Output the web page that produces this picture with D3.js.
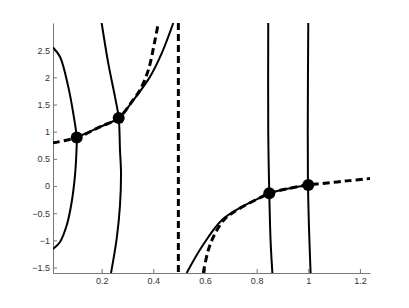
<!DOCTYPE html>
<html>
<head>
<meta charset="utf-8">
<script src="https://cdn.jsdelivr.net/npm/d3@7"></script>
<style>
  body { margin: 0; background: #fff; }
  .axis text { font-family: "Liberation Sans", Arial, sans-serif; font-size: 9px; fill: #333; }
  .axis path, .axis line { stroke: #777; }
</style>
</head>
<body>
<script>
// axis limits and ticks
const xDomain = [0.0116, 1.239];
const yDomain = [-1.6, 3.0];
const xTicks = [0.2, 0.4, 0.6, 0.8, 1, 1.2];
const yTicks = [-1.5, -1, -0.5, 0, 0.5, 1, 1.5, 2, 2.5];

// solid curves
const curveA = [[0.0116, 2.55], [0.0387, 2.378], [0.0708, 1.825], [0.0902, 1.335], [0.1034, 0.893],
    [0.1026, 0.66], [0.0968, 0.2], [0.084, -0.293], [0.0647, -0.722], [0.0387, -1.029], [0.0116, -1.16]];
const curveB = [[0.2, 3.0], [0.2257, 2.256], [0.2516, 1.641], [0.266, 1.254], [0.271, 0.659],
    [0.2749, 0.26], [0.271, -0.354], [0.2582, -0.967], [0.2362, -1.6]];
const upperSolid = [[0.1034, 0.893], [0.1936, 1.088], [0.266, 1.254], [0.3225, 1.58], [0.387, 2.009],
    [0.4324, 2.44], [0.4774, 3.0]];
const lowerSolid = [[0.5292, -1.6], [0.5873, -1.122], [0.6647, -0.63], [0.7422, -0.385], [0.8064, -0.23],
    [0.849, -0.133], [0.929, -0.04], [1.0, 0.02]];
const lineD = [[0.845, 3.0], [0.845, 1.0], [0.849, -0.133], [0.854, -1.0], [0.861, -1.6]];
const lineE = [[1.0, 3.0], [0.998, 1.0], [0.999, 0.0], [1.003, -0.8], [1.009, -1.6]];

// dashed curve (two branches and the jump at the asymptote)
const dashedUpper = [[0.0116, 0.794], [0.1034, 0.893], [0.1936, 1.088], [0.266, 1.254], [0.321, 1.58],
    [0.348, 1.764], [0.3806, 2.133], [0.4065, 2.685], [0.4193, 3.0]];
const dashedJump = [[0.497, 3.0], [0.497, -1.6]];
const dashedLower = [[0.5935, -1.6], [0.6128, -1.182], [0.6388, -0.875], [0.6775, -0.599], [0.7034, -0.506],
    [0.7422, -0.39], [0.8064, -0.232], [0.849, -0.133], [0.929, -0.04], [1.0, 0.02], [1.052, 0.046],
    [1.15, 0.095], [1.239, 0.138]];

// intersection points
const dots = [[0.1034, 0.893], [0.266, 1.254], [0.849, -0.133], [1.0, 0.02]];

const width = 409, height = 308;
const margin = {left: 53, right: 39, top: 23, bottom: 35};

const svg = d3.select("body").append("svg")
    .attr("width", width)
    .attr("height", height);

let x = d3.scaleLinear().domain(xDomain).range([margin.left, width - margin.right]);
let y = d3.scaleLinear().domain(yDomain).range([height - margin.bottom, margin.top]);

svg.append("clipPath").attr("id", "plotClip")
    .append("rect")
    .attr("x", margin.left).attr("y", margin.top)
    .attr("width", width - margin.left - margin.right)
    .attr("height", height - margin.top - margin.bottom);

svg.append("g")
    .attr("class", "axis")
    .attr("transform", `translate(0,${height - margin.bottom})`)
    .call(d3.axisBottom(x).tickValues(xTicks).tickSize(-4).tickSizeOuter(0).tickPadding(5)
        .tickFormat(d3.format("~g")));

svg.append("g")
    .attr("class", "axis")
    .attr("transform", `translate(${margin.left},0)`)
    .call(d3.axisLeft(y).tickValues(yTicks).tickSize(-4).tickSizeOuter(0).tickPadding(3)
        .tickFormat(d3.format("~g")));

let smooth = d3.line()
    .x(d => x(d[0]))
    .y(d => y(d[1]))
    .curve(d3.curveCatmullRom.alpha(0.5));

let plot = svg.append("g").attr("clip-path", "url(#plotClip)");

[curveA, curveB, upperSolid, lowerSolid, lineD, lineE].forEach(pts => {
    plot.append("path")
        .attr("d", smooth(pts))
        .attr("fill", "none")
        .attr("stroke", "#000")
        .attr("stroke-width", 2);
});

[dashedUpper, dashedJump, dashedLower].forEach(pts => {
    plot.append("path")
        .attr("d", smooth(pts))
        .attr("fill", "none")
        .attr("stroke", "#000")
        .attr("stroke-width", 3)
        .attr("stroke-dasharray", "7,4");
});

svg.selectAll("circle.dot")
    .data(dots)
    .join("circle")
    .attr("class", "dot")
    .attr("cx", d => x(d[0]))
    .attr("cy", d => y(d[1]))
    .attr("r", 6)
    .attr("fill", "#000");
</script>
</body>
</html>
